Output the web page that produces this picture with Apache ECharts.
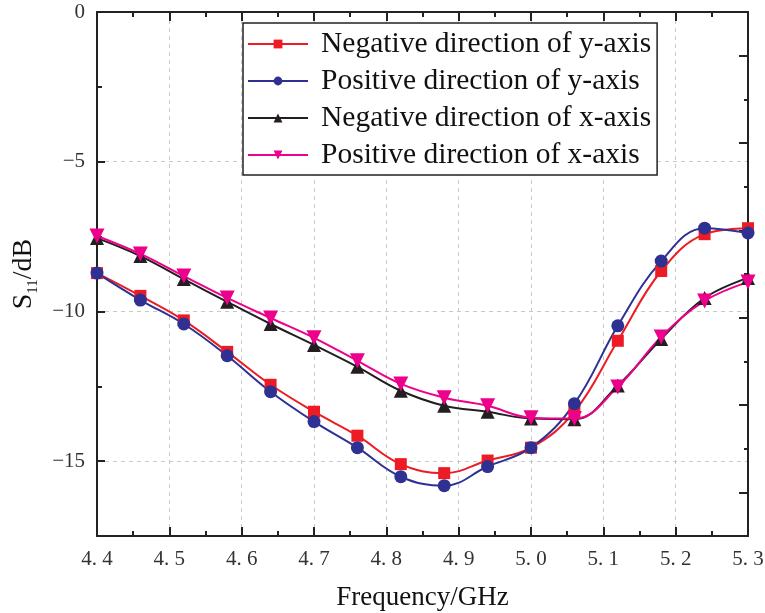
<!DOCTYPE html>
<html>
<head>
<meta charset="utf-8">
<script src="https://cdn.jsdelivr.net/npm/echarts@6/dist/echarts.min.js"></script>
<style>
html,body{margin:0;padding:0;background:#fff;}
#chart{width:765px;height:613px;}
</style>
</head>
<body>
<div id="chart"></div>
<script>
// Frequency points (GHz)
const freq = [4.40, 4.46, 4.52, 4.58, 4.64, 4.70, 4.76, 4.82, 4.88, 4.94, 5.00, 5.06, 5.12, 5.18, 5.24, 5.30];
// S11 (dB) for each direction
const negYaxis = [-8.72, -9.48, -10.30, -11.35, -12.45, -13.35, -14.15, -15.10, -15.40, -14.98, -14.55, -13.35, -10.98, -8.65, -7.42, -7.22];
const posYaxis = [-8.72, -9.62, -10.42, -11.48, -12.68, -13.68, -14.55, -15.52, -15.82, -15.18, -14.55, -13.08, -10.48, -8.32, -7.22, -7.38];
const negXaxis = [-7.55, -8.15, -8.92, -9.68, -10.42, -11.12, -11.85, -12.65, -13.15, -13.35, -13.58, -13.60, -12.47, -10.92, -9.55, -8.88];
const posXaxis = [-7.48, -8.08, -8.82, -9.55, -10.22, -10.88, -11.65, -12.42, -12.88, -13.15, -13.55, -13.58, -12.52, -10.85, -9.65, -9.02];
const seriesNames = ['Negative direction of y-axis', 'Positive direction of y-axis', 'Negative direction of x-axis', 'Positive direction of x-axis'];

const serif = '"Liberation Serif", "Times New Roman", serif';
const chart = echarts.init(document.getElementById('chart'), null, {renderer: 'canvas'});

function pairs(vals) { return freq.map((f, i) => [f, vals[i]]); }

function mk(name, vals, color, symbol, size, rotate) {
  return {
    name: name, type: 'line', data: pairs(vals), smooth: 0.4,
    symbol: symbol, symbolSize: size, symbolRotate: rotate || 0,
    lineStyle: {color: color, width: 2},
    itemStyle: {color: color},
    xAxisIndex: 0, yAxisIndex: 0
  };
}

const option = {
  backgroundColor: '#fff',
  animation: false,
  grid: {left: 97, right: 17, top: 12, bottom: 77, containLabel: false, outerBoundsMode: 'none'},
  legend: {
    show: true,
    orient: 'vertical',
    left: 243, top: 23,
    padding: [6, 6, 5, 4],
    itemGap: 7,
    itemWidth: 60, itemHeight: 11,
    borderColor: '#222', borderWidth: 1.5,
    backgroundColor: '#fff',
    textStyle: {fontFamily: serif, fontSize: 29.5, color: '#111', padding: [0, 0, 0, 8]},
    data: seriesNames
  },
  xAxis: [{
    type: 'value', position: 'bottom', min: 4.4, max: 5.3, interval: 0.1,
    axisLine: {show: true, onZero: false, lineStyle: {color: '#222', width: 2}},
    axisTick: {show: true, inside: true, length: 9, lineStyle: {color: '#222', width: 2}},
    minorTick: {show: true, splitNumber: 2, length: 5, lineStyle: {color: '#222', width: 2}},
    axisLabel: {fontFamily: serif, fontSize: 21, color: '#333', margin: 13,
      formatter: v => v.toFixed(1).replace('.', '. ')},
    splitLine: {show: true, lineStyle: {color: '#c8c8c8', type: [4, 4], width: 1}},
    name: 'Frequency/GHz', nameLocation: 'middle', nameGap: 48,
    nameTextStyle: {fontFamily: serif, fontSize: 27, color: '#111'}
  }, {
    type: 'value', position: 'top', min: 4.4, max: 5.3, interval: 0.1,
    axisLine: {show: true, onZero: false, lineStyle: {color: '#222', width: 2}},
    axisTick: {show: true, inside: true, length: 9, lineStyle: {color: '#222', width: 2}},
    minorTick: {show: true, splitNumber: 2, length: 5, lineStyle: {color: '#222', width: 2}},
    axisLabel: {show: false}, splitLine: {show: false}
  }],
  yAxis: [{
    type: 'value', position: 'left', min: -17.5, max: 0, splitNumber: 4,
    axisLine: {show: true, onZero: false, lineStyle: {color: '#222', width: 2}},
    axisTick: {show: true, inside: true, length: 8, lineStyle: {color: '#222', width: 2}},
    axisLabel: {fontFamily: serif, fontSize: 21, color: '#333', margin: 12, showMinLabel: false,
      formatter: v => (Math.abs(v % 5) < 1e-6 ? (v < 0 ? '\u2212' + Math.abs(v) : String(v)) : '')},
    splitLine: {show: true, lineStyle: {color: '#c8c8c8', type: [4, 4], width: 1}},
    name: '{s|S}{sub|11}{s|/dB}', nameLocation: 'middle', nameGap: 56,
    nameTextStyle: {
      rich: {
        s: {fontFamily: serif, fontSize: 28, color: '#111'},
        sub: {fontFamily: serif, fontSize: 15, color: '#111', padding: [20, 0, 0, 0]}
      }
    }
  }, {
    type: 'value', position: 'left', min: -17.5, max: 0, interval: 2.5,
    axisLine: {show: false},
    axisTick: {show: true, inside: true, length: 5, lineStyle: {color: '#222', width: 2}},
    axisLabel: {show: false}, splitLine: {show: false}
  }, {
    type: 'value', position: 'right', min: 0, max: 12, interval: 2,
    axisLine: {show: true, onZero: false, lineStyle: {color: '#222', width: 2}},
    axisTick: {show: true, inside: true, length: 4, lineStyle: {color: '#222', width: 2}},
    minorTick: {show: true, splitNumber: 2, length: 9, lineStyle: {color: '#222', width: 2}},
    axisLabel: {show: false}, splitLine: {show: false}
  }],
  series: [
    mk(seriesNames[0], negYaxis, '#ED1C24', 'rect', 12),
    mk(seriesNames[1], posYaxis, '#2E3192', 'circle', 13),
    mk(seriesNames[2], negXaxis, '#231F20', 'triangle', 14),
    mk(seriesNames[3], posXaxis, '#EC008C', 'triangle', 15, 180)
  ]
};
chart.setOption(option);
</script>
</body>
</html>
